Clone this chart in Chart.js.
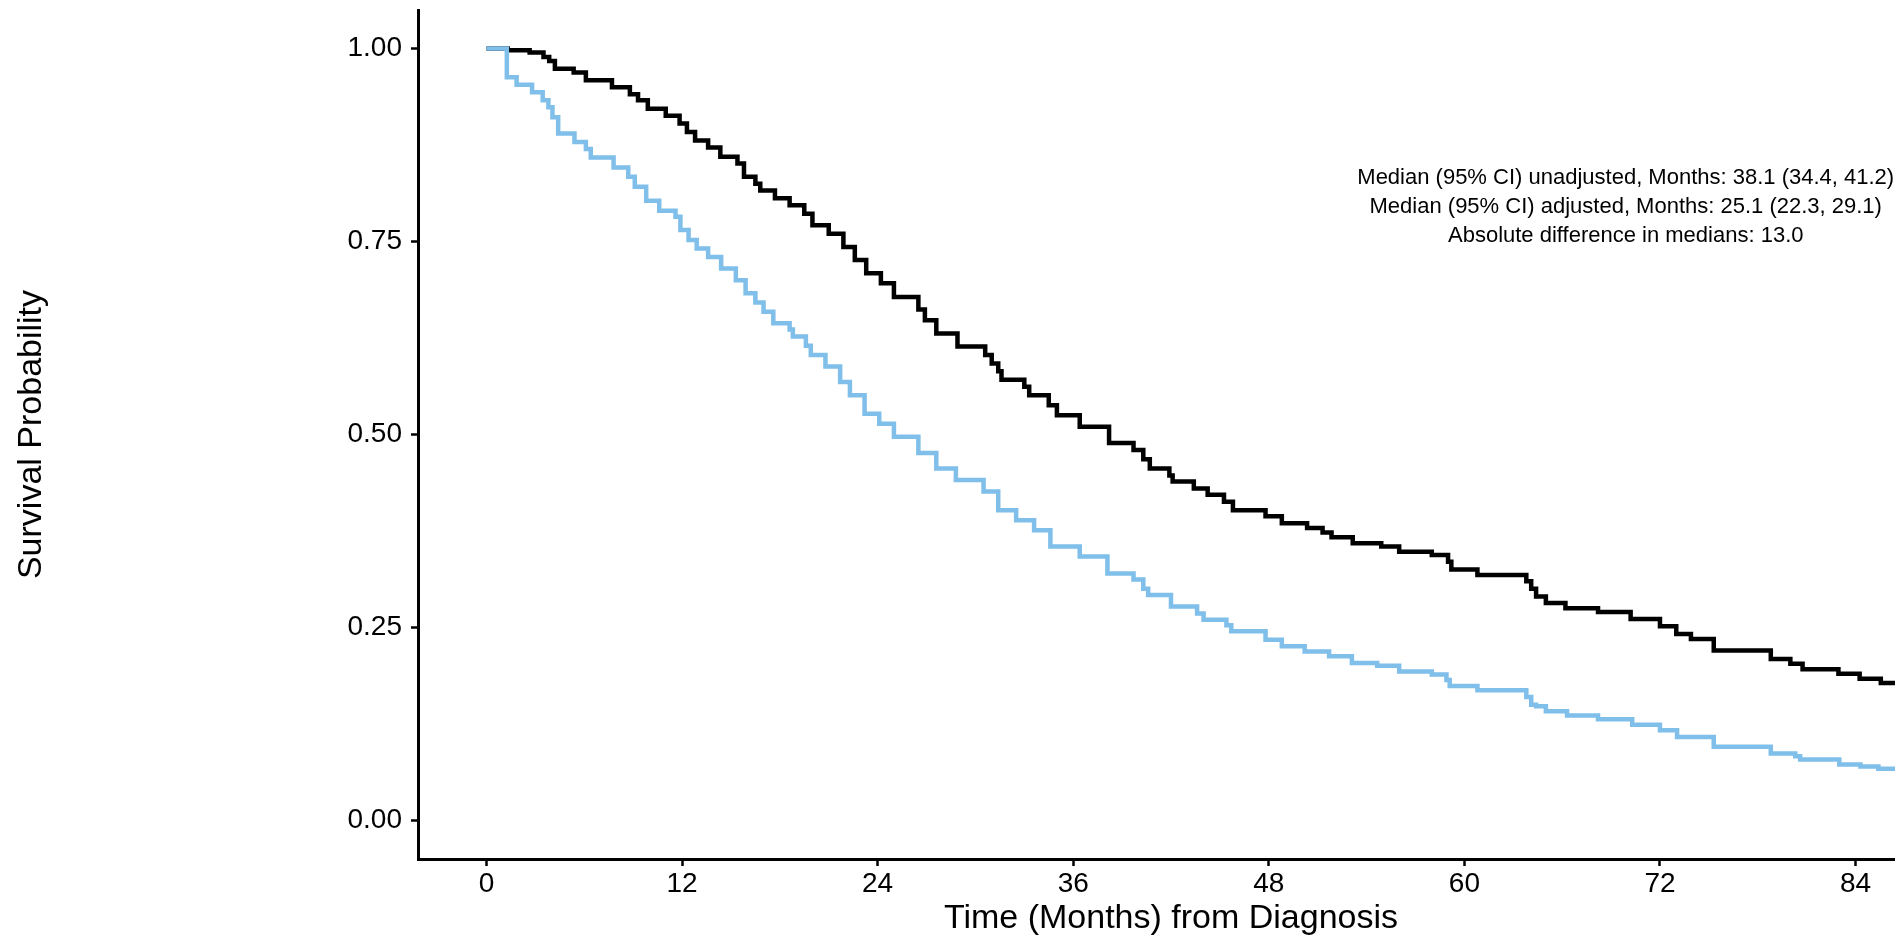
<!DOCTYPE html>
<html>
<head>
<meta charset="utf-8">
<script src="https://cdn.jsdelivr.net/npm/chart.js@4"></script>
<style>
  html, body { margin: 0; padding: 0; overflow: hidden; background: #fff; }
  #wrap { width: 1924px; height: 941px; }
</style>
</head>
<body>
<div id="wrap"><canvas id="km" width="1924" height="941"></canvas></div>
<script>
// Kaplan-Meier steps (time in months, survival probability)
const adjTime = [0, 1.25, 1.85, 2.8, 3.45, 3.8, 4.05, 4.4, 5.4, 6.1, 6.4, 7.8, 8.7, 9.1, 9.8, 10.6,
  11.6, 11.9, 12.4, 12.9, 13.6, 14.4, 15.3, 15.9, 16.5, 17.0, 17.6, 18.6, 18.8, 19.6, 19.9, 20.8,
  21.7, 22.3, 23.2, 24.1, 25.0, 26.5, 27.6, 28.8, 30.5, 31.4, 32.5, 33.6, 34.6, 36.4, 38.1, 39.7,
  40.3, 40.6, 42.0, 43.6, 44.0, 45.4, 45.7, 47.8, 48.8, 50.2, 51.7, 53.1, 54.65, 56.0, 58.0, 58.9,
  59.1, 60.8, 63.8, 64.1, 64.4, 65.0, 66.3, 68.2, 70.3, 72.0, 73.05, 75.3, 78.8, 80.3, 80.6, 83.0,
  84.3, 85.4, 88.2];
const adjSurv = [1.000, 0.963, 0.953, 0.9435, 0.933, 0.924, 0.911, 0.890, 0.879, 0.870, 0.859, 0.846,
  0.834, 0.821, 0.803, 0.790, 0.782, 0.765, 0.752, 0.741, 0.730, 0.715, 0.700, 0.683, 0.671, 0.659,
  0.644, 0.636, 0.627, 0.615, 0.603, 0.588, 0.568, 0.551, 0.527, 0.514, 0.497, 0.476, 0.456, 0.441,
  0.426, 0.402, 0.389, 0.376, 0.355, 0.342, 0.320, 0.312, 0.300, 0.292, 0.277, 0.268, 0.260, 0.253,
  0.245, 0.234, 0.2255, 0.219, 0.2126, 0.204, 0.2005, 0.193, 0.189, 0.182, 0.174, 0.1686, 0.160,
  0.150, 0.148, 0.1414, 0.136, 0.131, 0.124, 0.1168, 0.108, 0.0953, 0.0867, 0.083, 0.0789, 0.0724,
  0.070, 0.0669, 0.0669];

const unadjTime = [0, 1.3, 2.65, 3.5, 3.85, 4.2, 5.35, 6.1, 7.7, 8.8, 9.3, 9.9, 11.0, 11.85, 12.3,
  12.8, 13.6, 14.35, 15.4, 15.8, 16.5, 16.8, 17.7, 18.6, 19.5, 20.0, 21.0, 21.9, 22.6, 23.3, 24.2,
  25.0, 26.5, 26.9, 27.6, 28.9, 30.6, 31.0, 31.4, 31.6, 33.0, 33.3, 34.5, 35.0, 36.4, 38.2, 39.7,
  40.3, 40.7, 41.9, 42.1, 43.4, 44.25, 45.25, 45.8, 47.8, 48.8, 50.35, 51.3, 51.85, 53.15, 54.9,
  56.0, 58.0, 59.0, 59.2, 60.8, 63.8, 64.1, 64.4, 65.0, 66.2, 68.2, 70.2, 72.0, 73.0, 73.9, 75.3,
  78.8, 80.0, 80.75, 82.95, 84.25, 85.55, 88.2];
const unadjSurv = [1.000, 0.998, 0.995, 0.989, 0.984, 0.974, 0.969, 0.959, 0.950, 0.941, 0.933, 0.922,
  0.913, 0.903, 0.892, 0.881, 0.872, 0.860, 0.851, 0.834, 0.825, 0.816, 0.806, 0.797, 0.786, 0.771,
  0.760, 0.743, 0.726, 0.709, 0.696, 0.678, 0.662, 0.648, 0.631, 0.614, 0.603, 0.592, 0.582, 0.571,
  0.562, 0.551, 0.538, 0.525, 0.510, 0.489, 0.480, 0.468, 0.456, 0.447, 0.439, 0.430, 0.422, 0.413,
  0.402, 0.394, 0.385, 0.379, 0.373, 0.367, 0.359, 0.355, 0.348, 0.344, 0.335, 0.325, 0.318, 0.310,
  0.300, 0.290, 0.2816, 0.275, 0.270, 0.261, 0.2514, 0.2415, 0.235, 0.220, 0.209, 0.203, 0.196,
  0.190, 0.1837, 0.178, 0.178];

const xTicks = [0, 12, 24, 36, 48, 60, 72, 84];
const yTicks = [0, 0.25, 0.5, 0.75, 1];
const yTickLabels = ['0.00', '0.25', '0.50', '0.75', '1.00'];

const noteLines = [
  'Median (95% CI) unadjusted, Months: 38.1 (34.4, 41.2)',
  'Median (95% CI) adjusted, Months: 25.1 (22.3, 29.1)',
  'Absolute difference in medians: 13.0'
];

function toPoints(t, s) {
  return t.map((v, i) => ({ x: v, y: s[i] }));
}

// text block in the top right, anchored in data units
const notePlugin = {
  id: 'note',
  afterDraw(chart) {
    const ctx = chart.ctx;
    const cx = chart.scales.x.getPixelForValue(69.9);
    const y0 = chart.scales.y.getPixelForValue(0.824);
    ctx.save();
    ctx.font = '22px "Liberation Sans", Arial, sans-serif';
    ctx.fillStyle = '#000';
    ctx.textAlign = 'center';
    ctx.textBaseline = 'alphabetic';
    noteLines.forEach((line, i) => ctx.fillText(line, cx, y0 + i * 29));
    ctx.restore();
  }
};

const tickFont = { family: '"Liberation Sans", Arial, sans-serif', size: 28 };
const titleFont = { family: '"Liberation Sans", Arial, sans-serif', size: 34 };

new Chart(document.getElementById('km'), {
  type: 'line',
  data: {
    datasets: [
      {
        label: 'Adjusted',
        data: toPoints(adjTime, adjSurv),
        borderColor: '#7fbfea',
        borderWidth: 4.5,
        stepped: 'before',
        pointRadius: 0,
        fill: false
      },
      {
        label: 'Unadjusted',
        data: toPoints(unadjTime, unadjSurv),
        borderColor: '#000000',
        borderWidth: 4.5,
        stepped: 'before',
        pointRadius: 0,
        fill: false
      }
    ]
  },
  options: {
    responsive: false,
    animation: false,
    devicePixelRatio: 1,
    layout: { padding: { top: 10, left: 0, right: 0, bottom: 0 } },
    plugins: { legend: { display: false }, tooltip: { enabled: false } },
    scales: {
      x: {
        type: 'linear',
        min: -4.2,
        max: 88.2,
        afterBuildTicks: s => { s.ticks = xTicks.map(v => ({ value: v })); },
        afterFit: s => { s.height = 82; s.paddingLeft = 0; s.paddingRight = 0; },
        ticks: { color: '#000', font: tickFont, padding: 1, maxRotation: 0, autoSkip: false },
        grid: { drawOnChartArea: false, tickLength: 7, tickWidth: 2.5, tickColor: '#000' },
        border: { display: true, color: '#000', width: 3 },
        title: {
          display: true,
          text: 'Time (Months) from Diagnosis',
          color: '#000',
          font: titleFont,
          padding: { top: 0, bottom: 2 }
        }
      },
      y: {
        type: 'linear',
        min: -0.05,
        max: 1.05,
        afterBuildTicks: s => { s.ticks = yTicks.map(v => ({ value: v })); },
        afterFit: s => { s.width = 418; s.paddingTop = 0; s.paddingBottom = 0; },
        ticks: {
          color: '#000',
          font: tickFont,
          padding: 9,
          autoSkip: false,
          callback: v => yTickLabels[yTicks.indexOf(v)]
        },
        grid: { drawOnChartArea: false, tickLength: 7, tickWidth: 2.5, tickColor: '#000' },
        border: { display: true, color: '#000', width: 3 },
        title: {
          display: true,
          text: 'Survival Probability',
          color: '#000',
          font: titleFont,
          padding: { top: 11, bottom: 0 }
        }
      }
    }
  },
  plugins: [notePlugin]
});
</script>
</body>
</html>
